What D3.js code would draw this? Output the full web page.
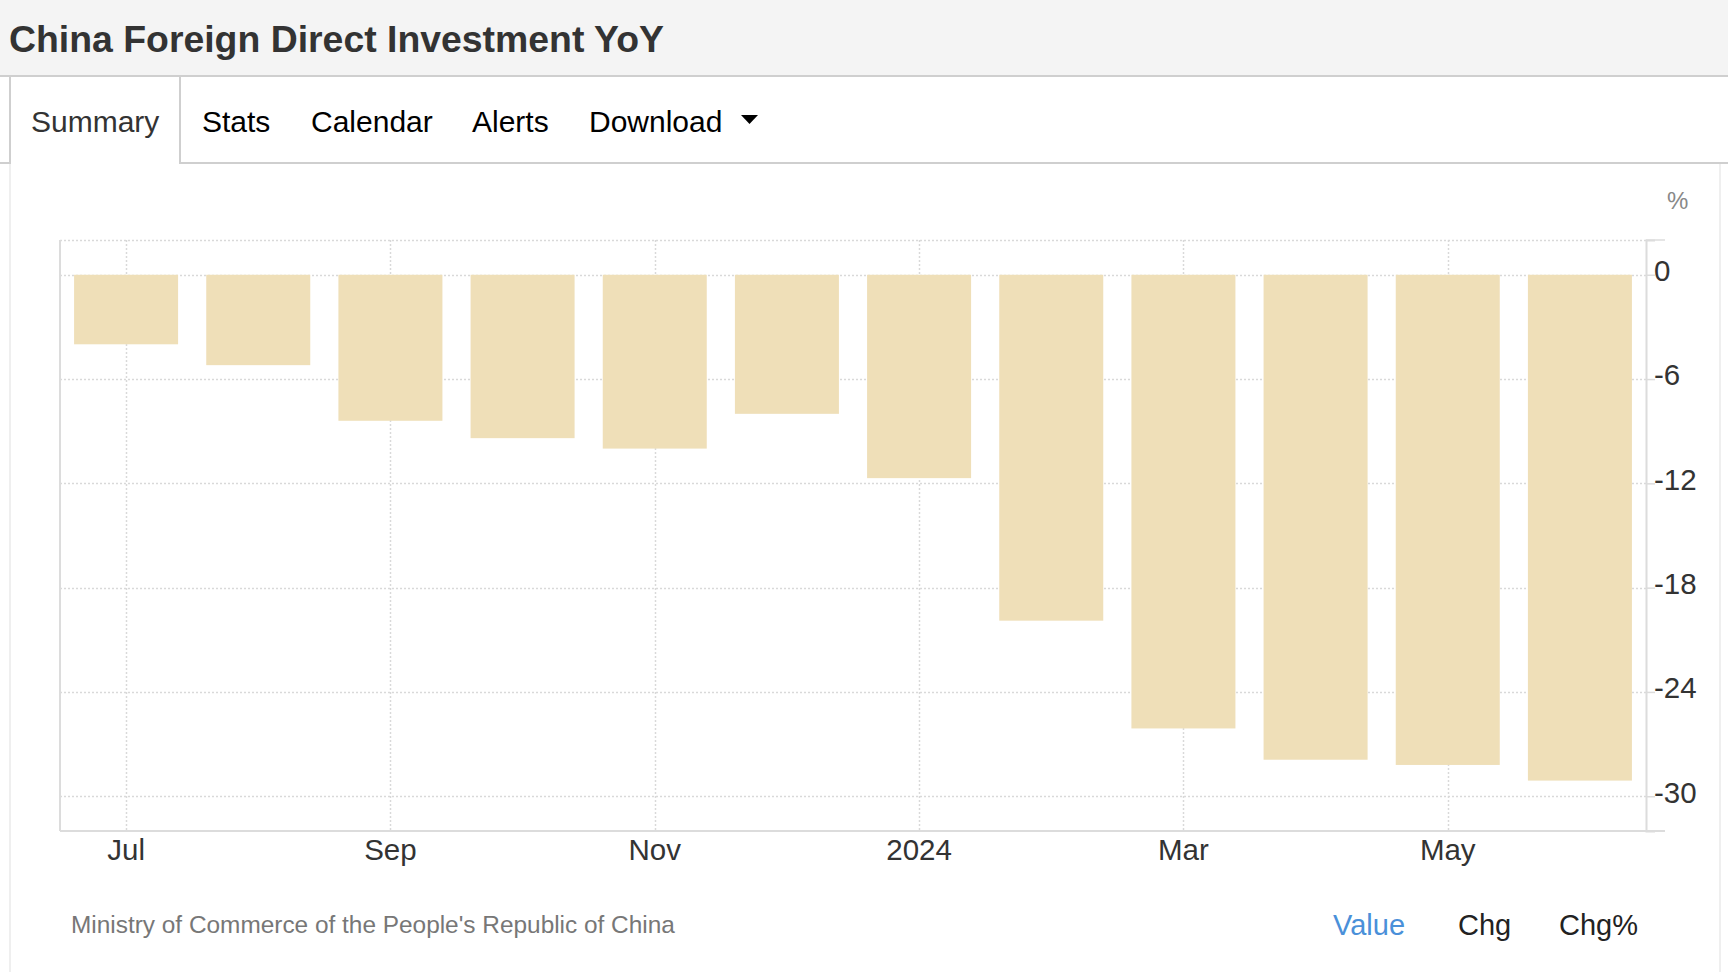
<!DOCTYPE html>
<html>
<head>
<meta charset="utf-8">
<script src="https://cdn.jsdelivr.net/npm/d3@7"></script>
<style>
  html, body { margin: 0; padding: 0; background: #fff; }
  svg { display: block; font-family: "Liberation Sans", Arial, Helvetica, sans-serif; }
</style>
</head>
<body>
<svg id="chart" width="1728" height="972"></svg>
<script>
// ---- data ----
const title = "China Foreign Direct Investment YoY";
const tabs = ["Summary", "Stats", "Calendar", "Alerts", "Download"];
const categories = ["2023-07","2023-08","2023-09","2023-10","2023-11","2023-12",
                    "2024-01","2024-02","2024-03","2024-04","2024-05","2024-06"];
const values = [-4.0, -5.2, -8.4, -9.4, -10.0, -8.0, -11.7, -19.9, -26.1, -27.9, -28.2, -29.1];
const xTickCats = ["2023-07","2023-09","2023-11","2024-01","2024-03","2024-05"];
const xTickLabels = ["Jul","Sep","Nov","2024","Mar","May"];
const yTicks = [0, -6, -12, -18, -24, -30];
const yDomain = [-32, 2];
const unitLabel = "%";
const sourceText = "Ministry of Commerce of the People's Republic of China";
const modeButtons = ["Value", "Chg", "Chg%"];

// ---- layout ----
const svg = d3.select("#chart");
const plot = { left: 60, right: 1646, top: 240, bottom: 831 };
const barColor = "#efdfb8";
const gridColor = "#d9d9d9";
const axisColor = "#dcdcdc";

// header
svg.append("rect").attr("x", 0).attr("y", 0).attr("width", 1728).attr("height", 76).attr("fill", "#f4f4f4");
svg.append("rect").attr("x", 0).attr("y", 75).attr("width", 1728).attr("height", 2).attr("fill", "#cfcfcf");
svg.append("text").attr("x", 9).attr("y", 52)
  .attr("font-size", 36).attr("font-weight", "bold").attr("fill", "#333")
  .attr("textLength", 655).attr("lengthAdjust", "spacingAndGlyphs")
  .text(title);

// tabs row
svg.append("rect").attr("x", 0).attr("y", 162).attr("width", 10).attr("height", 2).attr("fill", "#cfcfcf");
svg.append("rect").attr("x", 180).attr("y", 162).attr("width", 1548).attr("height", 2).attr("fill", "#cfcfcf");
svg.append("rect").attr("x", 9).attr("y", 77).attr("width", 2).attr("height", 87).attr("fill", "#cfcfcf");
svg.append("rect").attr("x", 179).attr("y", 77).attr("width", 2).attr("height", 87).attr("fill", "#cfcfcf");
const tabX = [31, 202, 311, 472, 589];
tabs.forEach((t, i) => {
  svg.append("text").attr("x", tabX[i]).attr("y", 132)
    .attr("font-size", 30).attr("fill", i === 0 ? "#333" : "#000").text(t);
});
svg.append("path").attr("d", "M741,115 L758,115 L749.5,124 Z").attr("fill", "#000");

// panel borders
svg.append("rect").attr("x", 9).attr("y", 164).attr("width", 2).attr("height", 808).attr("fill", "#efefef");
svg.append("rect").attr("x", 1719).attr("y", 164).attr("width", 2).attr("height", 808).attr("fill", "#efefef");

// scales
const x = d3.scaleBand().domain(categories).range([plot.left, plot.right])
  .paddingInner(0.213).paddingOuter(0.1065);
const y = d3.scaleLinear().domain(yDomain).range([plot.bottom, plot.top]);
const cx = c => x(c) + x.bandwidth() / 2;

// gridlines
const g = svg.append("g");
g.selectAll(".hgrid").data(yTicks.concat([yDomain[1]])).enter().append("line")
  .attr("x1", plot.left).attr("x2", plot.right)
  .attr("y1", d => Math.round(y(d)) + 0.5).attr("y2", d => Math.round(y(d)) + 0.5)
  .attr("stroke", gridColor).attr("stroke-width", 1.5).attr("stroke-dasharray", "2,2");
g.selectAll(".vgrid").data(xTickCats).enter().append("line")
  .attr("x1", d => Math.round(cx(d)) + 0.5).attr("x2", d => Math.round(cx(d)) + 0.5)
  .attr("y1", plot.top).attr("y2", plot.bottom)
  .attr("stroke", gridColor).attr("stroke-width", 1.5).attr("stroke-dasharray", "2,2");

// left border
svg.append("line").attr("x1", plot.left).attr("x2", plot.left)
  .attr("y1", plot.top).attr("y2", plot.bottom).attr("stroke", axisColor).attr("stroke-width", 2);

// bars
svg.append("g").selectAll("rect").data(values).enter().append("rect")
  .attr("x", (d, i) => x(categories[i]))
  .attr("width", x.bandwidth())
  .attr("y", d => y(Math.max(0, d)))
  .attr("height", d => Math.abs(y(d) - y(0)))
  .attr("fill", barColor);

// y axis (right)
const yAxis = svg.append("g").attr("transform", `translate(${plot.right},0)`)
  .call(d3.axisRight(y).tickValues(yTicks).tickSize(9).tickPadding(1).tickFormat(d => String(d)));
yAxis.select(".domain").attr("stroke", axisColor).attr("stroke-width", 2);
yAxis.selectAll(".tick line").attr("stroke", axisColor).attr("stroke-width", 1.5);
yAxis.selectAll(".tick text").attr("font-size", 29.5).attr("fill", "#333")
  .attr("font-family", "Liberation Sans, Arial, sans-serif")
  .attr("dy", "0.2em").attr("x", 8);
// extended top line
svg.append("line").attr("x1", plot.right).attr("x2", 1665)
  .attr("y1", plot.top).attr("y2", plot.top).attr("stroke", axisColor).attr("stroke-width", 1.5);

// x axis
const xAxis = svg.append("g").attr("transform", `translate(0,${plot.bottom})`)
  .call(d3.axisBottom(x).tickValues(xTickCats).tickSize(0)
    .tickFormat(d => xTickLabels[xTickCats.indexOf(d)]));
xAxis.select(".domain").remove();
xAxis.selectAll(".tick text").attr("font-size", 29.5).attr("fill", "#333")
  .attr("font-family", "Liberation Sans, Arial, sans-serif")
  .attr("dy", null).attr("y", 29);
svg.append("line").attr("x1", plot.left).attr("x2", 1665)
  .attr("y1", plot.bottom).attr("y2", plot.bottom).attr("stroke", axisColor).attr("stroke-width", 2);

// unit label
svg.append("text").attr("x", 1667).attr("y", 209).attr("font-size", 24).attr("fill", "#888").text(unitLabel);

// footer
svg.append("text").attr("x", 71).attr("y", 933).attr("font-size", 24.4).attr("fill", "#777").text(sourceText);
const btnX = [1333, 1458, 1559];
modeButtons.forEach((b, i) => {
  svg.append("text").attr("x", btnX[i]).attr("y", 935).attr("font-size", 29)
    .attr("fill", i === 0 ? "#4a90d9" : "#222").text(b);
});
</script>
</body>
</html>
